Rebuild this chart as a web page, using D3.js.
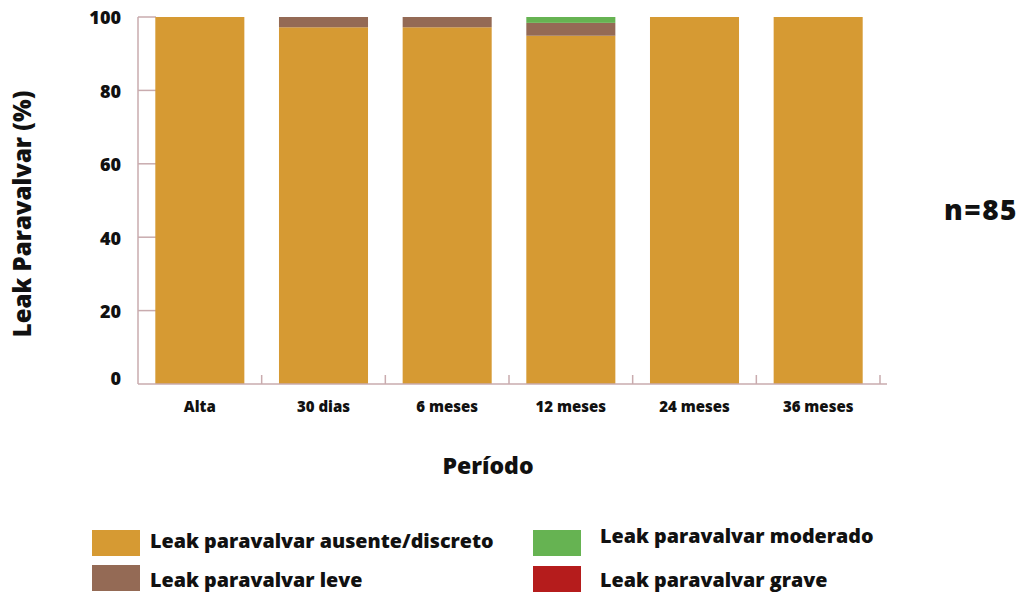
<!DOCTYPE html>
<html><head><meta charset="utf-8">
<script src="https://cdn.jsdelivr.net/npm/d3@7"></script>
<style>body{margin:0;background:#fff;} text{font-family:"Open Sans",Lato,sans-serif;font-weight:800;fill:#111;}</style>
</head><body>
<svg id="c" width="1027" height="594"></svg>
<script>
const categories = ["Alta","30 dias","6 meses","12 meses","24 meses","36 meses"];
const ausente  = [100, 97.2, 97.2, 94.9, 100, 100];
const leve     = [0, 2.8, 2.8, 3.5, 0, 0];
const moderado = [0, 0, 0, 1.6, 0, 0];
const grave    = [0, 0, 0, 0, 0, 0];
const seriesNames = ["Leak paravalvar ausente/discreto","Leak paravalvar leve","Leak paravalvar moderado","Leak paravalvar grave"];
const yTicks = [0,20,40,60,80,100];
const colors = ["#D69A33","#946A55","#66B352","#B51C1C"];

const svg = d3.select("#c");
const x = d3.scaleBand().domain(categories).range([138, 880]).paddingInner(0.28).paddingOuter(0.14);
const y = d3.scaleLinear().domain([0,100]).range([384, 17]);
const axisColor = "#c9abae";

const table = categories.map((c,i)=>({cat:c, s0:ausente[i], s1:leve[i], s2:moderado[i], s3:grave[i]}));
const stack = d3.stack().keys(["s0","s1","s2","s3"])(table);

svg.append("g").selectAll("line").data(yTicks.filter(d=>d>0)).join("line")
  .attr("x1",138).attr("x2",156).attr("y1",d=>y(d)).attr("y2",d=>y(d))
  .attr("stroke",axisColor).attr("stroke-width",1.5);

svg.append("g").selectAll("g").data(stack).join("g").attr("fill",(d,i)=>colors[i])
  .selectAll("rect").data(d=>d).join("rect")
  .attr("x",d=>x(d.data.cat)).attr("width",x.bandwidth())
  .attr("y",d=>y(d[1])).attr("height",d=>Math.max(0,y(d[0])-y(d[1])));

svg.append("line").attr("x1",138).attr("x2",138).attr("y1",17).attr("y2",384).attr("stroke",axisColor).attr("stroke-width",1.5);
svg.append("line").attr("x1",138).attr("x2",887).attr("y1",384).attr("y2",384).attr("stroke",axisColor).attr("stroke-width",1.5);
const bounds = categories.slice(1).map(c=>x(c)-x.step()*x.paddingInner()/2);
bounds.push(x(categories[categories.length-1])+x.bandwidth()+x.step()*x.paddingInner()/2);
svg.append("g").selectAll("line").data(bounds).join("line")
  .attr("x1",d=>d).attr("x2",d=>d).attr("y1",375).attr("y2",384)
  .attr("stroke",axisColor).attr("stroke-width",1.5);

svg.append("g").selectAll("text").data(yTicks).join("text")
  .attr("x",121).attr("y",d=>d===0? y(d)-5 : y(d)+1).attr("dy","0.35em")
  .attr("text-anchor","end").attr("font-size",18).text(d=>d);

svg.append("g").selectAll("text").data(categories).join("text")
  .attr("x",d=>x(d)+x.bandwidth()/2).attr("y",412).attr("text-anchor","middle")
  .attr("font-size",15).text(d=>d);

svg.append("text").attr("transform","translate(31,214) rotate(-90)").attr("text-anchor","middle")
  .attr("font-size",24).text("Leak Paravalvar (%)");
svg.append("text").attr("x",488).attr("y",474).attr("text-anchor","middle").attr("font-size",23).text("Período");
svg.append("text").attr("x",981).attr("y",220).attr("text-anchor","middle").attr("font-size",28)
  .attr("letter-spacing",1.5).text("n=85");

const leg = [
  {x:92, y:530, tx:150, ty:548},
  {x:92, y:565, tx:150, ty:587},
  {x:533,y:530, tx:600, ty:543},
  {x:533,y:566, tx:600, ty:587}
];
const lg = svg.append("g").selectAll("g").data(seriesNames).join("g");
lg.append("rect").attr("x",(d,i)=>leg[i].x).attr("y",(d,i)=>leg[i].y).attr("width",48).attr("height",26).attr("fill",(d,i)=>colors[i]);
lg.append("text").attr("x",(d,i)=>leg[i].tx).attr("y",(d,i)=>leg[i].ty).attr("font-size",19.7).text(d=>d);
</script>
</body></html>
